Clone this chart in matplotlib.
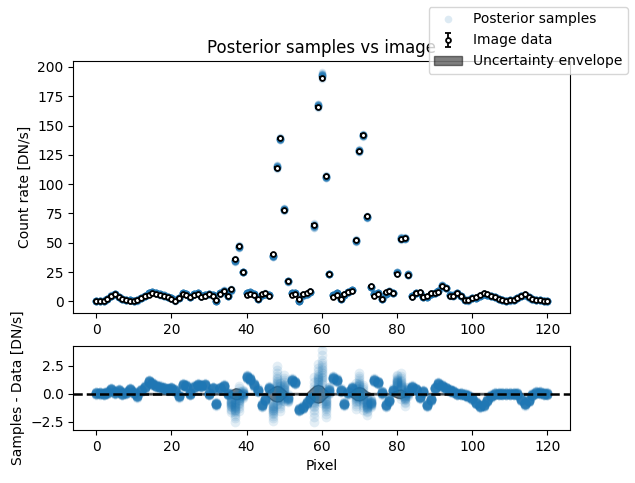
import numpy as np
import matplotlib.pyplot as plt

''' Data read off the reference picture '''
pixels = np.arange(121)

# Image data [DN/s]
image_data = [
    0.5, 0.5, 0.6, 2.0, 4.5, 6.0, 3.5, 1.8, 0.8, 0.6,
    0.3, 1.0, 2.8, 4.2, 5.8, 6.8, 6.3, 5.3, 4.5, 3.5,
    2.2, 0.5, 3.0, 6.5, 5.5, 4.0, 5.5, 6.3, 4.0, 4.8,
    6.3, 4.8, 1.2, 6.3, 8.5, 4.8, 10.5, 36.0, 47.0, 25.0,
    5.7, 6.3, 5.7, 2.0, 6.3, 7.1, 4.8, 40.0, 114.0, 139.0,
    78.0, 17.5, 5.7, 6.3, 2.0, 6.3, 6.8, 8.5, 65.0, 166.0,
    191.0, 107.0, 23.0, 4.0, 5.7, 2.0, 6.3, 7.6, 9.0, 52.0,
    128.0, 142.0, 73.0, 13.0, 4.8, 6.3, 2.0, 7.6, 9.0, 6.8,
    23.5, 53.0, 54.0, 22.7, 4.0, 7.0, 7.6, 3.5, 5.0, 6.8,
    6.8, 8.0, 12.8, 11.0, 4.8, 4.8, 6.8, 4.5, 1.0, 1.0,
    3.0, 3.5, 5.7, 7.0, 6.0, 4.8, 3.7, 2.2, 1.0, 0.4,
    0.8, 1.0, 3.0, 4.8, 6.5, 4.0, 1.8, 1.0, 0.8, 0.5,
    0.0,
]

# Data uncertainty (half width of the envelope) [DN/s]
data_error = [0.07] * 35 + [
    0.15, 0.35, 0.5, 0.45, 0.2,               # 35-39
] + [0.07] * 6 + [
    0.35, 0.6, 0.7, 0.65, 0.35,               # 46-50
] + [0.07] * 6 + [
    0.4, 0.7, 0.8, 0.7, 0.35,                 # 57-61
] + [0.07] * 6 + [
    0.3, 0.55, 0.6, 0.5, 0.2,                 # 68-72
] + [0.07] * 6 + [
    0.2, 0.35, 0.4, 0.25,                     # 79-82
] + [0.07] * 38

# Mean residual of the posterior samples (samples - data) [DN/s]
resid_mean = [
    0.05, 0.05, 0.0, 0.1, 0.4, 0.1, 0.3, 0.0, 0.1, 0.4,
    0.1, -0.2, 0.3, 0.6, 1.1, 0.9, 0.7, 0.6, 0.5, 0.4,
    0.5, 0.3, -0.2, 0.8, 0.7, 0.0, 0.6, 0.8, 0.7, 0.8,
    0.0, 0.5, -0.9, 0.5, 0.7, 0.0, -0.8, -1.2, -0.4, 0.0,
    1.5, 1.3, 0.8, 0.3, -1.0, -0.5, 0.5, -1.3, 0.8, -0.3,
    0.5, -0.4, 1.2, 1.0, -1.4, -1.2, -0.8, -0.4, -0.5, 1.0,
    1.8, -0.8, 0.3, 1.4, 1.2, 0.3, -0.9, 0.1, 0.5, -0.2,
    0.6, -0.3, -1.0, -0.8, 1.2, 1.0, 0.1, -1.0, -0.6, 0.3,
    1.0, 0.7, -0.2, 0.2, 0.6, 0.4, -0.3, 0.2, -1.0, -0.5,
    0.5, 0.9, 0.7, 0.5, 0.3, 0.2, 0.0, 0.0, -0.1, -0.2,
    -0.4, -0.8, -1.1, -1.0, -0.6, -0.2, 0.0, 0.0, 0.0, 0.0,
    0.0, 0.0, 0.0, -0.5, -0.9, -0.6, -0.1, 0.1, 0.1, 0.0,
    0.0,
]

# Spread of the posterior samples around the mean residual [DN/s]
resid_spread = [0.05] * 36 + [
    0.3, 0.45, 0.4, 0.12,                     # 36-39
] + [0.06] * 7 + [
    0.4, 0.6, 0.45, 0.4, 0.12,                # 47-51
] + [0.06] * 6 + [
    0.7, 0.6, 0.95, 0.45, 0.12,               # 58-62
] + [0.06] * 6 + [
    0.4, 0.45, 0.4, 0.3, 0.12,                # 69-73
] + [0.06] * 6 + [
    0.25, 0.4, 0.3, 0.15,                     # 80-83
] + [0.05] * 37

# Standardised offsets used to draw the sample cloud of each pixel
sample_offsets = [-2.8, -2.2, -1.7, -1.3, -1.0, -0.8, -0.6, -0.45, -0.3, -0.15,
                  0.0, 0.15, 0.3, 0.45, 0.6, 0.8, 1.0, 1.3, 1.7, 2.2, 2.8]

''' Build sample clouds '''
image_data = np.array(image_data)
data_error = np.array(data_error)
resid_mean = np.array(resid_mean)
resid_spread = np.array(resid_spread)
offsets = np.array(sample_offsets)

resid_samples = resid_mean[None, :] + offsets[:, None] * resid_spread[None, :]
model_samples = image_data[None, :] + resid_samples
sample_x = np.tile(pixels, (len(offsets), 1))

''' Graphing '''
fig = plt.figure(figsize=(6.35, 4.83), dpi=100)
ax_top = fig.add_axes([0.1157, 0.352, 0.782, 0.522])
ax_bot = fig.add_axes([0.1157, 0.110, 0.782, 0.174])

# Top panel: samples and data
ax_top.plot(sample_x.ravel(), model_samples.ravel(), 'o', color='C0',
            alpha=0.15, markersize=5.5, markeredgewidth=0,
            label='Posterior samples')
ax_top.errorbar(pixels, image_data, yerr=data_error, fmt='o', color='k',
                markerfacecolor='white', markeredgecolor='k', markersize=3.5,
                markeredgewidth=1.3, capsize=2, elinewidth=1.3,
                label='Image data')
ax_top.set_ylabel('Count rate [DN/s]')
ax_top.set_title('Posterior samples vs image')
ax_top.set_xticks(np.arange(0, 121, 20))

# Bottom panel: residuals
ax_bot.plot(sample_x.ravel(), resid_samples.ravel(), 'o', color='C0',
            alpha=0.12, markersize=7, markeredgewidth=0)
ax_bot.fill_between(pixels, -data_error, data_error, color='k', alpha=0.5,
                    label='Uncertainty envelope')
ax_bot.axhline(0, color='k', linestyle='--', linewidth=1.8)
ax_bot.set_xlabel('Pixel')
ax_bot.set_ylabel('Samples - Data [DN/s]')
ax_bot.set_xticks(np.arange(0, 121, 20))
ax_bot.set_ylim(-3.2, 4.25)

# Shared x range
ax_top.set_xlim(-6, 126)
ax_bot.set_xlim(-6, 126)

fig.legend(loc='upper right')

plt.savefig('out.png', dpi=100)
